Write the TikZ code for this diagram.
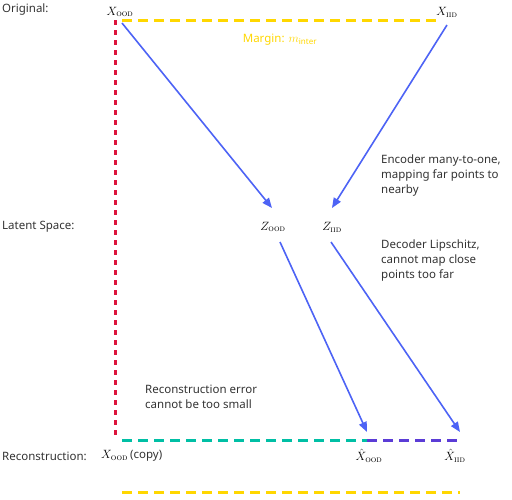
\documentclass[tikz,border=0pt]{standalone}
\usepackage[no-math]{fontspec}
\setmainfont{Noto Sans}
\usepackage{amsmath}
\usepackage{tikz}
\usetikzlibrary{positioning,arrows.meta,calc}
\definecolor{lsblue}{HTML}{4D63F5}
\definecolor{lsgold}{HTML}{FFD700}
\definecolor{lsred}{HTML}{DC143C}
\definecolor{lsteal}{HTML}{00BFA5}
\definecolor{lspurple}{HTML}{5B3CD6}
\definecolor{lstext}{HTML}{333333}
\newcommand{\ood}{\textsc{\fontfamily{lmr}\selectfont ood}}
\newcommand{\iid}{\textsc{\fontfamily{lmr}\selectfont iid}}

\begin{document}
\begin{tikzpicture}[x=1pt,y=-1pt,font=\fontsize{11.5}{15}\selectfont,text=lstext,
  rowlab/.style={anchor=west,inner sep=0pt},
  pt/.style={inner sep=0pt,font=\fontsize{12.5}{14}\selectfont,text=black},
  note/.style={anchor=north west,align=left,inner sep=0pt},
  ar/.style={-{Triangle[length=10pt,width=8pt]},lsblue,line width=1.6pt},
  dsh/.style={line width=3pt,dash pattern=on 10pt off 6pt},
  red/.style={lsred,line width=3pt,dash pattern=on 5pt off 5pt}]
\useasboundingbox (0,0) rectangle (512,499);
% row labels
\node[rowlab] (lorig) at (2,10) {Original:};
\node[rowlab] (llat) at (2,227) {Latent Space:};
\node[rowlab] (lrec) at (2,456) {Reconstruction:};
% points
\node[pt] (xood) at (120,12) {$X_{\text{\ood}}$};
\node[pt] (xiid) at (447,12) {$X_{\text{\iid}}$};
\node[pt] (zood) at (273,227) {$Z_{\text{\ood}}$};
\node[pt] (ziid) at (332,227) {$Z_{\text{\iid}}$};
\node[pt,anchor=west] (xcopy) at (101,456) {$X_{\text{\ood}}$\,{\fontsize{11.5}{14}\selectfont\color{lstext}(copy)}};
\node[pt] (hood) at (369,456) {$\hat X_{\text{\ood}}$};
\node[pt] (hiid) at (455,456) {$\hat X_{\text{\iid}}$};
% arrow ends
\coordinate (xo) at (122,23); \coordinate (xi) at (447,25);
\coordinate (zoi) at (272,208); \coordinate (zii) at (332,208);
\coordinate (zoo) at (280,242); \coordinate (zio) at (331,242);
\coordinate (hoi) at (367,432); \coordinate (hii) at (460,432);
% guide ends
\coordinate (g1) at (122,20); \coordinate (g2) at (437,20);
\coordinate (r1) at (115,20); \coordinate (r2) at (115,438);
\coordinate (t1) at (122,440); \coordinate (t2) at (367,440);
\coordinate (p2) at (460,440);
\coordinate (b1) at (122,492); \coordinate (b2) at (460,492);
% notes
\node[text=lsgold,inner sep=0pt] (marg) at (280,40) {Margin: $m_{\text{inter}}$};
\node[note] (enc) at (381,155) {Encoder many-to-one,\\mapping far points to\\nearby};
\node[note] (dec) at (381,240) {Decoder Lipschitz,\\cannot map close\\points too far};
\node[note] (err) at (145,385) {Reconstruction error\\cannot be too small};
% dashed guides
\draw[dsh,lsgold] (g1) -- (g2);
\draw[dsh,lsgold] (b1) -- (b2);
\draw[red] (r1) -- (r2);
\draw[dsh,lsteal] (t1) -- (t2);
\draw[dsh,lspurple] (t2) -- (p2);
% mappings
\draw[ar] (xo) -- (zoi);
\draw[ar] (xi) -- (zii);
\draw[ar] (zoo) -- (hoi);
\draw[ar] (zio) -- (hii);
\end{tikzpicture}
\end{document}
